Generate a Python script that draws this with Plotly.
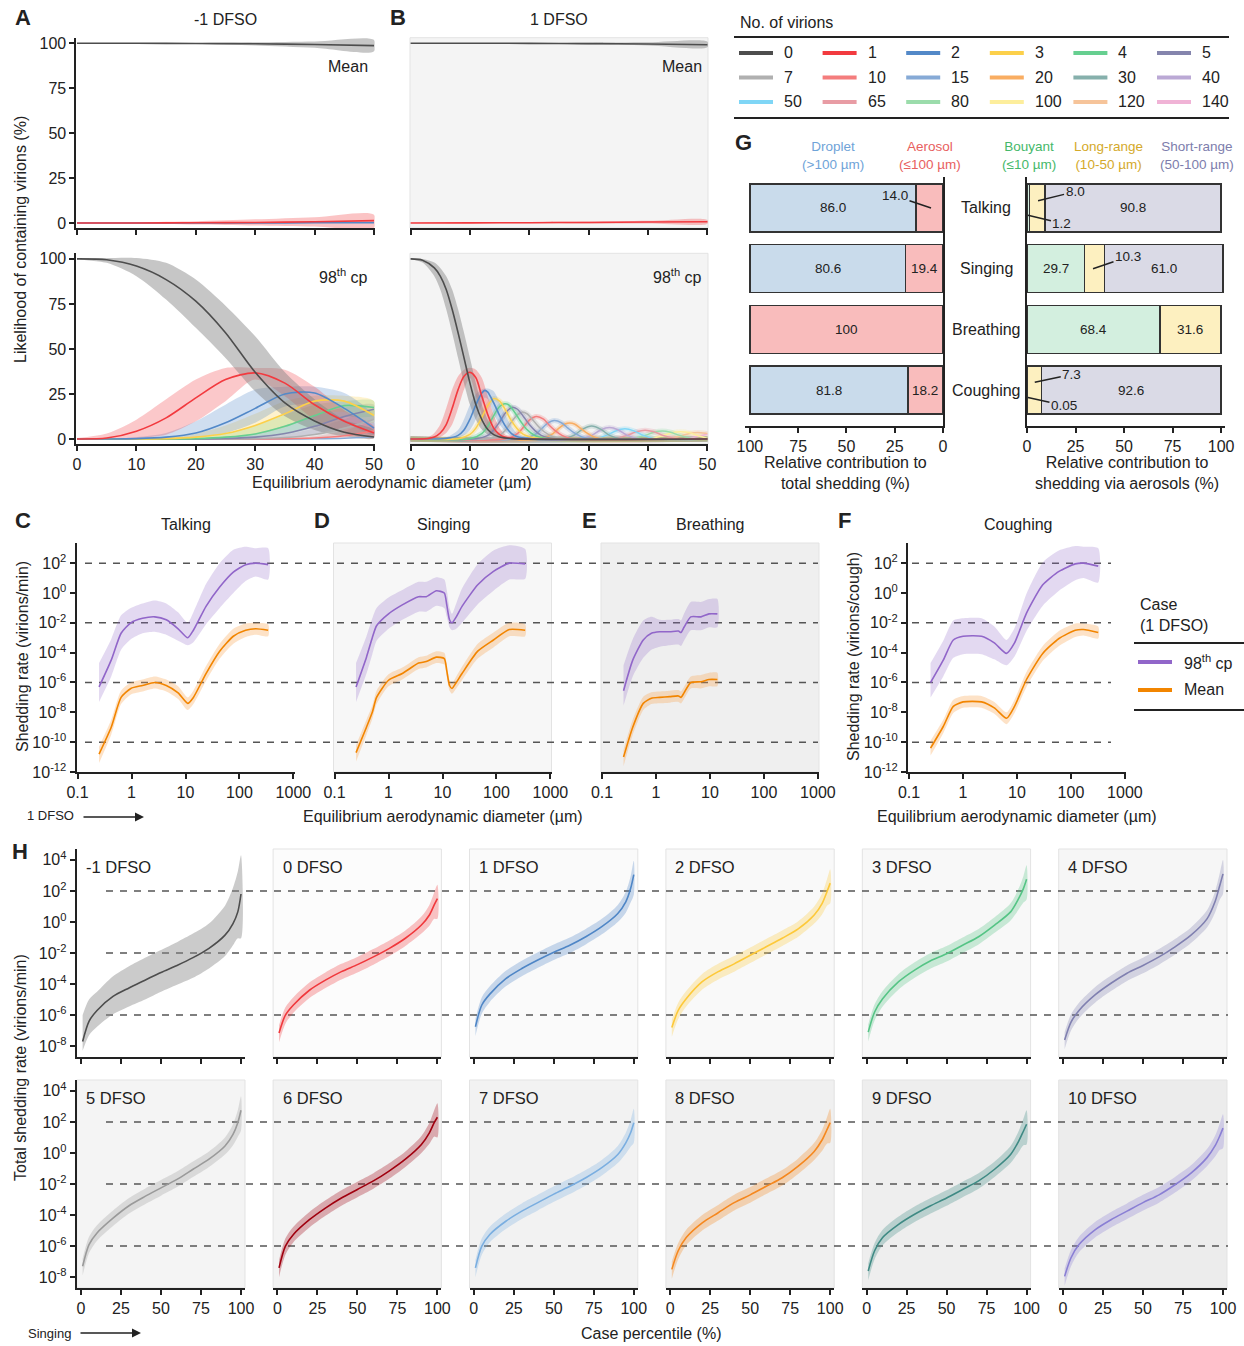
import plotly.graph_objects as go

W, H = 1244, 1346
FONT = "Liberation Sans, Arial, Helvetica, sans-serif"
INK = "#222222"
FS = 16  # base text size

# ---------------- palette / legend (No. of virions)
VIRION_COUNTS = [0, 1, 2, 3, 4, 5, 7, 10, 15, 20, 30, 40, 50, 65, 80, 100, 120, 140]
VIRION_COLORS = ["#4d4d4d", "#f23a3f", "#5389c8", "#fcd04a", "#66cf90", "#8585ad",
                 "#b0b0b0", "#f47d7d", "#86aad6", "#f9ad62", "#86b0ac", "#bba9d5",
                 "#7fd6f6", "#e89ca4", "#9bdcab", "#fdee9c", "#f6c49a", "#f0b3d6"]

# ---------------- Panel A (-1 DFSO)  mean (top)
AT_X = [0, 10, 20, 30, 40, 50]
AT0 = [100, 100, 99.9, 99.7, 99.3, 98.7]
AT0_HI = [100, 100, 100.1, 100.5, 101.0, 101.8]
AT0_LO = [100, 99.9, 99.6, 98.8, 97.5, 95.5]
AT1 = [0, 0.02, 0.1, 0.3, 0.7, 1.3]
AT1_HI = [0, 0.4, 1.0, 2.0, 3.2, 4.6]
AT1_LO = [0, -0.4, -0.8, -1.4, -2.0, -2.6]
AT2 = [0, 0, 0, 0.02, 0.08, 0.2]

# ---------------- Panel A (-1 DFSO) 98th cp (bottom)
AB_X = [0, 5, 10, 15, 20, 25, 30, 35, 40, 45, 50]
AB0 = [100, 99.5, 96, 88.5, 76.5, 59, 37, 20, 10, 3.7, 1.1]
AB0_HI = [100, 100.5, 100.5, 97.8, 88.5, 74, 57, 37, 22, 10.7, 5]
AB0_LO = [100, 97.8, 90.4, 77.4, 61.7, 45, 26.5, 12.6, 5, 1.5, 0.4]
AB1 = [0, 0.5, 4.3, 11.7, 22.8, 33, 36.7, 31, 19, 9.8, 3.3]
AB1_HI = [0.5, 3, 10.7, 22, 33, 39.4, 39.4, 38.5, 29, 16, 7]
AB1_LO = [0, 0, 0.5, 2.4, 9.8, 21, 33, 23.7, 10.7, 3.3, 0.6]
AB2 = [0, 0, 0.2, 1, 3.3, 9, 17, 25, 25.5, 17, 6]
AB2_HI = [0, 0.2, 1, 3.3, 9.8, 19, 27.4, 29, 29, 25.5, 12.6]
AB2_LO = [0, 0, 0, 0.2, 1, 3.3, 9, 18, 19, 9.8, 2.4]
AB3 = [0, 0, 0, 0.2, 1, 3, 7.5, 14, 21, 21, 13]
AB3_HI = [0, 0, 0.1, 0.8, 3, 7.5, 14, 21, 24, 24, 21]
AB3_LO = [0, 0, 0, 0, 0.2, 0.8, 2.5, 6.5, 13, 15, 9]
AB4 = [0, 0, 0, 0, 0.2, 1, 2.8, 7, 13, 18.5, 17.5]
AB4_HI = [0, 0, 0, 0.1, 0.8, 3, 7.5, 13.5, 19, 21, 21]
AB4_LO = [0, 0, 0, 0, 0, 0.2, 0.8, 2.5, 6.5, 12, 13]
AB5 = [0, 0, 0, 0, 0, 0.3, 1, 3, 7, 12.5, 16.5]
AB5_HI = [0, 0, 0, 0, 0.2, 1, 3, 7.5, 13, 17.5, 19]
AB5_LO = [0, 0, 0, 0, 0, 0, 0.2, 0.8, 2.5, 6.5, 11]
AB7 = [0, 0, 0, 0, 0, 0, 0.2, 0.8, 2.5, 6, 11]
AB7_HI = [0, 0, 0, 0, 0, 0.2, 0.8, 2.5, 6, 11, 16]
AB7_LO = [0, 0, 0, 0, 0, 0, 0, 0.2, 0.6, 2, 5]
AB10 = [0, 0, 0, 0, 0, 0, 0, 0.1, 0.5, 1.8, 4.5]
AB10_HI = [0, 0, 0, 0, 0, 0, 0.1, 0.5, 1.5, 4.5, 9]
AB10_LO = [0, 0, 0, 0, 0, 0, 0, 0, 0.1, 0.6, 1.8]
AB15 = [0, 0, 0, 0, 0, 0, 0, 0, 0.1, 0.4, 1.2]

# ---------------- Panel B (1 DFSO) mean (top)
BT0 = [100, 100, 99.95, 99.8, 99.6, 99.2]
BT0_HI = [100, 100, 100.1, 100.3, 100.5, 100.8]
BT0_LO = [100, 99.9, 99.7, 99.3, 98.8, 97.8]
BT1 = [0, 0.05, 0.15, 0.3, 0.5, 0.7]
BT1_HI = [0, 0.2, 0.5, 0.8, 1.2, 1.7]
BT1_LO = [0, -0.1, -0.2, -0.3, -0.3, -0.4]

# ---------------- Panel B (1 DFSO) 98th cp (bottom)
B0_X = [0, 2, 4, 5, 6, 7, 8, 9, 10, 11, 12, 13, 14, 15, 17, 50]
B0_Y = [100, 99.3, 95, 90.4, 83, 72, 59, 45, 31, 19, 10.7, 5.2, 2.4, 1.1, 0.2, 0]
B0_HI = [100, 100, 98, 95, 90.4, 83, 72, 59, 45, 31, 19, 10.7, 5.2, 2.4, 0.5, 0]
B0_LO = [100, 98, 90.4, 83, 72, 59, 45, 31, 19, 10.7, 5.2, 2.4, 1.1, 0.5, 0.05, 0]
B1_X = [0, 3, 4, 5, 6, 7, 8, 9, 10, 11, 12, 13, 14, 15, 16, 18, 50]
B1_Y = [0, 0.3, 1.1, 3.3, 8, 17, 27.4, 34.8, 37, 34, 23.7, 13.5, 6, 2.4, 0.9, 0.1, 0]
B1_HI = [0, 1, 3.3, 8, 17, 27.4, 34.8, 38.5, 39.5, 38.5, 34, 23.7, 13.5, 6, 2.4, 0.5, 0]
B1_LO = [0, 0, 0.2, 1.1, 3.3, 8, 17, 27.4, 34, 23.7, 13.5, 6, 2.4, 0.9, 0.3, 0, 0]
B2_X = [0, 6, 8, 9, 10, 11, 12, 12.5, 13, 14, 15, 16, 17, 18, 20, 50]
B2_Y = [0, 0.3, 2, 5, 11, 19, 25.5, 27, 26, 20, 13, 7, 3, 1.2, 0.2, 0]
B2_HI = [0, 1, 5, 11, 19, 25, 27.5, 28, 28, 26.5, 20, 13, 7, 3, 0.8, 0]
B2_LO = [0, 0, 0.5, 2, 5, 11, 19, 23, 22, 14, 8, 4, 1.5, 0.5, 0, 0]
B3_X = [0, 8, 10, 11, 12, 13, 14, 15, 16, 17, 18, 19, 21, 50]
B3_Y = [0, 0.1, 2.5, 6, 12, 18.5, 22.4, 21, 16, 10, 5.5, 2.5, 0.5, 0]
B4_X = [0, 10, 12, 13, 14, 15, 15.8, 16.5, 17.5, 18.5, 19.5, 21, 23, 50]
B4_Y = [0, 0.1, 3, 7, 13, 18, 19.5, 19, 15, 10, 5.5, 1.8, 0.3, 0]
B5_X = [0, 11, 13, 14, 15, 16, 17, 18, 19, 20, 21, 22, 24, 50]
B5_Y = [0, 0.1, 2, 5, 9.5, 14.5, 17.5, 16.5, 12.5, 8, 4.5, 2, 0.3, 0]
B7_X = [0, 13, 15, 16, 17, 18, 18.8, 19.6, 20.5, 21.5, 22.5, 24, 26, 50]
B7_Y = [0, 0.1, 2, 5, 9.5, 13.5, 14.9, 14, 11, 7, 4, 1.2, 0.2, 0]
B10_X = [0, 16, 18, 19, 20, 21.2, 22.4, 23.4, 24.4, 25.5, 27, 50]
B10_Y = [0, 0.1, 3, 6.5, 10.5, 12.5, 11, 7.5, 4.5, 2, 0.3, 0]
B15_X = [0, 19, 21, 22, 23, 24.2, 25.4, 26.5, 27.5, 29, 31, 50]
B15_Y = [0, 0.1, 2.5, 5.5, 8.5, 10.2, 9, 6, 3.5, 1, 0.1, 0]
B20_X = [0, 22, 24, 25, 26, 26.8, 27.6, 28.6, 29.6, 31, 33, 50]
B20_Y = [0, 0.1, 3, 6, 8.3, 8.8, 8.3, 6, 3.5, 1, 0.1, 0]
B30_X = [0, 25.5, 27.5, 29, 30.5, 32, 33.5, 35.5, 50]
B30_Y = [0, 0.1, 2, 5.5, 7.2, 5.5, 2, 0.1, 0]
B40_X = [0, 28.5, 30.5, 32, 33.5, 35, 36.5, 38.5, 50]
B40_Y = [0, 0.1, 2, 5, 6.3, 5, 2, 0.1, 0]
B50_X = [0, 31, 33, 34.6, 36.1, 37.6, 39.2, 41.2, 50]
B50_Y = [0, 0.1, 2, 4.5, 5.6, 4.5, 2, 0.1, 0]
B65_X = [0, 34, 36.5, 38, 39.5, 41, 42.5, 45, 50]
B65_Y = [0, 0.1, 2, 4, 4.9, 4, 2, 0.1, 0]
B80_X = [0, 37, 39.5, 41, 42.4, 43.8, 45.3, 47.8, 50]
B80_Y = [0, 0.1, 2, 3.7, 4.4, 3.7, 2, 0.1, 0]
B100_X = [0, 40, 42.5, 44, 45.5, 47, 48.5, 50]
B100_Y = [0, 0.1, 1.8, 3.4, 4, 3.4, 1.8, 0.3]
B120_X = [0, 43, 45.5, 47, 48.4, 49.8, 50]
B120_Y = [0, 0.1, 1.7, 3, 3.6, 3.1, 3.0]
B140_X = [0, 46, 48.5, 50]
B140_Y = [0, 0.1, 1.5, 2.8]

# ---------------- Panel G
ACTIVITIES = ["Talking", "Singing", "Breathing", "Coughing"]
DROPLET = [86.0, 80.6, 0, 81.8]
AEROSOL = [14.0, 19.4, 100, 18.2]
BUOYANT = [1.2, 29.7, 68.4, 0.05]
LONG_RANGE = [8.0, 10.3, 31.6, 7.3]
SHORT_RANGE = [90.8, 61.0, 0, 92.6]

# ---------------- Panels C-F (diameter in um, log10 shedding rate)
C_X = [0.25, 0.42, 0.64, 0.97, 1.6, 2.7, 4.4, 7.3, 11, 14, 24, 43, 77, 130, 200, 340]
C_P98 = [-6.3, -4.5, -2.7, -2.0, -1.7, -1.6, -1.8, -2.4, -3.0, -2.5, -0.9, 0.4, 1.4, 1.9, 2.0, 1.9]
C_P98_UP = [1.6, 1.4, 1.2, 1.0, 1.0, 1.1, 1.1, 1.1, 1.0, 1.2, 1.5, 1.6, 1.5, 1.2, 1.0, 1.1]
C_P98_DN = [1.0, 1.1, 1.1, 1.1, 1.0, 1.0, 1.0, 0.8, 0.5, 0.8, 1.2, 1.4, 1.4, 1.1, 0.9, 1.0]
C_MEAN = [-10.8, -9.0, -7.0, -6.4, -6.2, -6.0, -6.2, -6.7, -7.4, -7.0, -5.4, -3.9, -2.9, -2.5, -2.4, -2.5]
C_MEAN_UP = [0.5, 0.5, 0.45, 0.4, 0.4, 0.4, 0.4, 0.45, 0.4, 0.45, 0.5, 0.5, 0.5, 0.45, 0.4, 0.4]
C_MEAN_DN = [0.6, 0.5, 0.45, 0.4, 0.4, 0.4, 0.4, 0.4, 0.45, 0.45, 0.5, 0.5, 0.5, 0.45, 0.4, 0.4]

D_X = [0.25, 0.39, 0.5, 0.6, 1.0, 1.8, 3.6, 5.0, 7.7, 10.8, 12, 13.5, 15, 18, 23, 45, 88, 173, 340]
D_P98 = [-6.3, -4.3, -3.0, -2.2, -1.4, -0.8, -0.25, -0.25, 0.15, 0.0, -0.8, -1.8, -2.0, -1.6, -0.9, 0.55, 1.45, 2.0, 1.95]
D_P98_UP = [1.6, 1.4, 1.3, 1.2, 1.1, 1.0, 1.0, 1.0, 0.9, 0.9, 1.0, 0.8, 0.6, 0.9, 1.2, 1.4, 1.4, 1.2, 1.0]
D_P98_DN = [1.0, 1.1, 1.1, 1.0, 1.0, 1.0, 1.0, 1.0, 1.0, 1.0, 0.8, 0.5, 0.5, 0.8, 1.1, 1.3, 1.3, 1.1, 1.0]
D_MEAN = [-10.7, -9.0, -8.0, -7.0, -5.85, -5.4, -4.7, -4.6, -4.3, -4.4, -5.2, -6.2, -6.4, -6.0, -5.4, -3.9, -3.15, -2.45, -2.5]
D_MEAN_UP = [0.5, 0.5, 0.45, 0.45, 0.4, 0.4, 0.4, 0.4, 0.4, 0.4, 0.4, 0.35, 0.35, 0.4, 0.45, 0.5, 0.5, 0.45, 0.4]
D_MEAN_DN = [0.6, 0.5, 0.45, 0.45, 0.4, 0.4, 0.4, 0.4, 0.4, 0.4, 0.4, 0.35, 0.35, 0.4, 0.45, 0.5, 0.5, 0.45, 0.4]

E_X = [0.25, 0.37, 0.58, 0.82, 1.17, 1.8, 2.6, 2.9, 3.3, 4.4, 6.8, 9.6, 13.7]
E_P98 = [-6.55, -4.5, -3.15, -2.7, -2.6, -2.6, -2.55, -2.65, -2.3, -1.6, -1.6, -1.4, -1.4]
E_P98_UP = [1.7, 1.4, 1.3, 1.1, 0.8, 0.8, 0.8, 0.8, 0.9, 1.0, 1.0, 1.0, 1.0]
E_P98_DN = [1.0, 1.1, 1.2, 1.1, 1.0, 0.9, 0.9, 0.9, 0.9, 0.9, 0.9, 0.9, 0.9]
E_MEAN = [-11.0, -9.0, -7.4, -7.05, -7.0, -6.95, -6.9, -7.0, -6.7, -6.0, -5.95, -5.8, -5.8]
E_MEAN_UP = [0.5, 0.5, 0.45, 0.4, 0.4, 0.4, 0.4, 0.4, 0.4, 0.4, 0.45, 0.45, 0.45]
E_MEAN_DN = [0.6, 0.5, 0.45, 0.4, 0.4, 0.4, 0.4, 0.4, 0.4, 0.4, 0.45, 0.45, 0.45]

F_X = [0.25, 0.43, 0.66, 1.0, 2.2, 3.8, 6.4, 9.0, 15, 30, 60, 120, 170, 320]
F_P98 = [-6.0, -4.5, -3.15, -2.9, -2.9, -3.35, -4.05, -3.35, -1.35, 0.55, 1.45, 1.95, 2.0, 1.8]
F_P98_UP = [1.3, 1.3, 1.3, 1.2, 1.2, 1.1, 0.9, 1.0, 1.3, 1.5, 1.4, 1.2, 1.1, 1.2]
F_P98_DN = [1.0, 1.1, 1.2, 1.2, 1.2, 1.1, 0.8, 0.9, 1.2, 1.4, 1.3, 1.1, 1.0, 1.1]
F_MEAN = [-10.4, -8.95, -7.6, -7.3, -7.3, -7.7, -8.4, -7.6, -5.8, -4.05, -3.05, -2.5, -2.45, -2.65]
F_MEAN_UP = [0.5, 0.45, 0.45, 0.4, 0.4, 0.4, 0.4, 0.45, 0.5, 0.5, 0.5, 0.45, 0.4, 0.4]
F_MEAN_DN = [0.5, 0.45, 0.45, 0.4, 0.4, 0.4, 0.4, 0.45, 0.5, 0.5, 0.5, 0.45, 0.4, 0.4]

ACT_TITLES = ["Talking", "Singing", "Breathing", "Coughing"]

# ---------------- Panel H (case percentile, log10 total shedding rate)
H_X = [1, 5, 10, 20, 30, 40, 50, 60, 70, 80, 90, 95, 98, 100]
H_DFSO = [-1, 0, 1, 2, 3, 4, 5, 6, 7, 8, 9, 10]
H_M1 = [-7.7, -6.4, -5.7, -4.8, -4.25, -3.75, -3.25, -2.8, -2.3, -1.7, -0.85, -0.1, 0.65, 1.8]
H_0 = [-7.15, -6.0, -5.35, -4.4, -3.75, -3.2, -2.75, -2.25, -1.7, -1.05, -0.2, 0.45, 1.1, 1.5]
H_1 = [-6.75, -5.35, -4.65, -3.65, -3.0, -2.45, -1.95, -1.5, -0.95, -0.3, 0.55, 1.3, 2.15, 3.05]
H_2 = [-6.8, -5.7, -4.95, -3.85, -3.2, -2.7, -2.15, -1.6, -1.05, -0.45, 0.45, 1.2, 1.95, 2.5]
H_3 = [-7.1, -5.8, -4.95, -3.85, -3.1, -2.5, -2.05, -1.5, -0.95, -0.2, 0.65, 1.5, 2.15, 2.75]
H_4 = [-7.6, -6.45, -5.7, -4.7, -3.95, -3.3, -2.8, -2.25, -1.6, -0.85, 0.2, 1.3, 2.35, 3.1]
H_5 = [-7.3, -5.9, -5.15, -4.2, -3.4, -2.8, -2.25, -1.7, -1.05, -0.4, 0.45, 1.2, 1.95, 2.75]
H_6 = [-7.4, -6.0, -5.25, -4.3, -3.55, -2.9, -2.35, -1.8, -1.15, -0.4, 0.55, 1.3, 1.95, 2.3]
H_7 = [-7.4, -6.0, -5.25, -4.4, -3.75, -3.2, -2.65, -2.15, -1.6, -0.95, -0.1, 0.65, 1.3, 1.95]
H_8 = [-7.5, -6.3, -5.45, -4.5, -3.85, -3.2, -2.7, -2.15, -1.6, -0.85, 0.1, 0.85, 1.5, 1.95]
H_9 = [-7.6, -6.3, -5.45, -4.6, -3.95, -3.4, -2.9, -2.35, -1.8, -1.05, -0.1, 0.75, 1.4, 1.85]
H_10 = [-7.95, -6.75, -5.9, -4.95, -4.3, -3.75, -3.2, -2.7, -2.05, -1.3, -0.3, 0.45, 1.1, 1.6]
H_UP = [0.5, 0.5, 0.5, 0.5, 0.5, 0.5, 0.5, 0.5, 0.5, 0.5, 0.55, 0.65, 0.8, 0.9]
H_DN = [0.6, 0.55, 0.5, 0.5, 0.5, 0.5, 0.5, 0.5, 0.5, 0.5, 0.55, 0.7, 0.9, 1.3]
H_UP_M1 = [1.7, 1.4, 1.2, 1.3, 1.4, 1.45, 1.45, 1.5, 1.55, 1.6, 1.9, 2.3, 2.6, 2.5]
H_DN_M1 = [0.6, 0.9, 1.05, 1.15, 1.2, 1.25, 1.25, 1.25, 1.3, 1.3, 1.35, 1.4, 1.7, 2.85]
H_LINE = ["#4d4d4d", "#f0383c", "#4f86c6", "#fdc93a", "#55c485", "#8080b0",
          "#9a9a9a", "#a0000f", "#7aaee0", "#f5881f", "#3f8a84", "#8a7fd4"]
H_BG = ["#ffffff", "#fcfcfc", "#fafafa", "#f9f9f9", "#f8f8f8", "#f6f6f6",
        "#f4f4f4", "#f3f3f3", "#f2f2f2", "#f0f0f0", "#eeeeee", "#ececec"]

P98_COLOR = "#9166c9"
MEAN_COLOR = "#f28500"


# ======================================================================
def fx(p):
    return p / W


def fy(p):
    return 1 - p / H


def rgba(h, a):
    h = h.lstrip("#")
    return "rgba(%d,%d,%d,%s)" % (int(h[0:2], 16), int(h[2:4], 16), int(h[4:6], 16), a)


COLOR_OF = dict(zip(VIRION_COUNTS, VIRION_COLORS))

fig = go.Figure()
AXES = {}
ANN = []
SHP = []
_n = [0]

BASE_AX = dict(showgrid=False, zeroline=False, showline=True, linecolor=INK, linewidth=2,
               ticks="outside", ticklen=5, tickwidth=1.5, tickcolor=INK,
               tickfont=dict(size=FS, color=INK, family=FONT))


def new_axes(xpx, ypx, xa, ya):
    _n[0] += 1
    s = "" if _n[0] == 1 else str(_n[0])
    xd = dict(BASE_AX)
    xd.update(domain=[fx(xpx[0]), fx(xpx[1])], anchor="y" + s)
    xd.update(xa)
    yd = dict(BASE_AX)
    yd.update(domain=[fy(ypx[1]), fy(ypx[0])], anchor="x" + s)
    yd.update(ya)
    AXES["xaxis" + s] = xd
    AXES["yaxis" + s] = yd
    return "x" + s, "y" + s


def txt(x, y, s, size=FS, xanchor="center", angle=0, color=INK, xref="paper", yref="paper",
        yanchor="middle", align="center"):
    ANN.append(dict(x=x, y=y, xref=xref, yref=yref, text=s, showarrow=False, xanchor=xanchor,
                    yanchor=yanchor, textangle=angle, align=align,
                    font=dict(size=size, color=color, family=FONT)))


def ptxt(xp, yp, s, **k):
    txt(fx(xp), fy(yp), s, **k)


def line(xs, ys, color, xr, yr, width=1.6, shape="spline", dash=None, smoothing=0.8):
    ld = dict(color=color, width=width, shape=shape)
    if shape == "spline":
        ld["smoothing"] = smoothing
    if dash:
        ld["dash"] = dash
    fig.add_trace(go.Scatter(x=list(xs), y=list(ys), mode="lines", line=ld, xaxis=xr, yaxis=yr,
                             hoverinfo="skip", showlegend=False))


def band(xs, lo, hi, fill, xr, yr, smoothing=0.8):
    fig.add_trace(go.Scatter(x=list(xs) + list(xs)[::-1], y=list(hi) + list(lo)[::-1],
                             mode="lines", fill="toself", fillcolor=fill,
                             line=dict(width=0, shape="spline", smoothing=smoothing),
                             xaxis=xr, yaxis=yr, hoverinfo="skip", showlegend=False))


def bg_rect(xr, yr, color, border="#e3e3e3"):
    SHP.append(dict(type="rect", xref=xr + " domain", yref=yr + " domain", x0=0, x1=1, y0=0, y1=1,
                    fillcolor=color, line=dict(color=border, width=1), layer="below"))


def letter(xp, yp, s):
    ptxt(xp, yp, "<b>%s</b>" % s, size=22, xanchor="left")


def pow_text(e):
    return "10<sup>%d</sup>" % e


# ====================== Panels A / B ===================================
XT50 = [0, 10, 20, 30, 40, 50]
YT100 = [0, 25, 50, 75, 100]
ARANGE = [-2.8, 103.1]

# A top
xr, yr = new_axes((76.4, 374.6), (37.7, 228),
                  dict(range=[-0.1, 50.1], tickvals=XT50, showticklabels=False),
                  dict(range=ARANGE, tickvals=YT100))
band(AT_X, AT0_LO, AT0_HI, rgba("#808080", 0.45), xr, yr)
band(AT_X, AT1_LO, AT1_HI, rgba(COLOR_OF[1], 0.3), xr, yr)
line(AT_X, AT2, COLOR_OF[2], xr, yr)
line(AT_X, AT1, COLOR_OF[1], xr, yr)
line(AT_X, AT0, COLOR_OF[0], xr, yr)
txt(0.985, 0.851, "Mean", xref=xr + " domain", yref=yr + " domain", xanchor="right")

# A bottom
xr, yr = new_axes((76.4, 374.6), (253.3, 444),
                  dict(range=[-0.1, 50.1], tickvals=XT50),
                  dict(range=ARANGE, tickvals=YT100))
AB_SETS = [(10, AB10, AB10_LO, AB10_HI), (7, AB7, AB7_LO, AB7_HI), (5, AB5, AB5_LO, AB5_HI),
           (4, AB4, AB4_LO, AB4_HI), (3, AB3, AB3_LO, AB3_HI), (2, AB2, AB2_LO, AB2_HI),
           (1, AB1, AB1_LO, AB1_HI), (0, AB0, AB0_LO, AB0_HI)]
for k, m, lo, hi in AB_SETS:
    alpha = 0.45 if k == 0 else 0.28
    band(AB_X, lo, hi, rgba("#808080" if k == 0 else COLOR_OF[k], alpha), xr, yr)
line(AB_X, AB15, COLOR_OF[15], xr, yr)
for k, m, lo, hi in AB_SETS:
    line(AB_X, m, COLOR_OF[k], xr, yr)
txt(0.985, 0.88, "98<sup>th</sup> cp", xref=xr + " domain", yref=yr + " domain", xanchor="right")

# B top
xr, yr = new_axes((410, 708), (37.7, 228),
                  dict(range=[-0.1, 50.1], tickvals=XT50, showticklabels=False),
                  dict(range=ARANGE, visible=False))
bg_rect(xr, yr, "#f4f4f4")
band(AT_X, BT0_LO, BT0_HI, rgba("#808080", 0.45), xr, yr)
band(AT_X, BT1_LO, BT1_HI, rgba(COLOR_OF[1], 0.3), xr, yr)
line(AT_X, BT1, COLOR_OF[1], xr, yr)
line(AT_X, BT0, COLOR_OF[0], xr, yr)
txt(0.985, 0.851, "Mean", xref=xr + " domain", yref=yr + " domain", xanchor="right")

# B bottom
xr, yr = new_axes((410, 708), (253.3, 444),
                  dict(range=[-0.1, 50.1], tickvals=XT50),
                  dict(range=ARANGE, visible=False))
bg_rect(xr, yr, "#f4f4f4")
B_SMALL = [(140, B140_X, B140_Y), (120, B120_X, B120_Y), (100, B100_X, B100_Y),
           (80, B80_X, B80_Y), (65, B65_X, B65_Y), (50, B50_X, B50_Y), (40, B40_X, B40_Y),
           (30, B30_X, B30_Y), (20, B20_X, B20_Y), (15, B15_X, B15_Y), (10, B10_X, B10_Y),
           (7, B7_X, B7_Y), (5, B5_X, B5_Y), (4, B4_X, B4_Y), (3, B3_X, B3_Y)]
for k, xs, ys in B_SMALL:
    line(xs, ys, rgba(COLOR_OF[k], 0.28), xr, yr, width=5)
band(B2_X, B2_LO, B2_HI, rgba(COLOR_OF[2], 0.28), xr, yr)
band(B1_X, B1_LO, B1_HI, rgba(COLOR_OF[1], 0.3), xr, yr)
band(B0_X, B0_LO, B0_HI, rgba("#808080", 0.45), xr, yr)
for k, xs, ys in B_SMALL:
    line(xs, ys, COLOR_OF[k], xr, yr, width=1.5)
line(B2_X, B2_Y, COLOR_OF[2], xr, yr)
line(B1_X, B1_Y, COLOR_OF[1], xr, yr)
line(B0_X, B0_Y, COLOR_OF[0], xr, yr)
txt(0.985, 0.88, "98<sup>th</sup> cp", xref=xr + " domain", yref=yr + " domain", xanchor="right")

letter(13, 18, "A")
letter(388, 18, "B")
ptxt(225, 20, "-1 DFSO")
ptxt(559, 20, "1 DFSO")
ptxt(20, 240, "Likelihood of containing virions (%)", angle=-90)
ptxt(392, 482, "Equilibrium aerodynamic diameter (µm)")

# ---- legend: No. of virions
ptxt(738, 22, "No. of virions", xanchor="left")
SHP.append(dict(type="line", xref="paper", yref="paper", x0=fx(734), x1=fx(1229), y0=fy(37), y1=fy(37),
                line=dict(color=INK, width=2)))
SHP.append(dict(type="line", xref="paper", yref="paper", x0=fx(734), x1=fx(1229), y0=fy(118), y1=fy(118),
                line=dict(color=INK, width=2)))
for i, (cnt, col) in enumerate(zip(VIRION_COUNTS, VIRION_COLORS)):
    r, c = divmod(i, 6)
    x0 = 739 + 83.6 * c
    yy = 53 + 24.5 * r
    SHP.append(dict(type="line", xref="paper", yref="paper", x0=fx(x0), x1=fx(x0 + 34),
                    y0=fy(yy), y1=fy(yy), line=dict(color=col, width=4)))
    ptxt(x0 + 43, yy, str(cnt), xanchor="left")

# ====================== Panel G ========================================
G_ROWS = list(range(len(ACTIVITIES)))
GY_RANGE = [3.59, -0.51]


def fmt(v):
    if v >= 100:
        return "%d" % v
    if v < 0.1:
        return "%.2f" % v
    return "%.1f" % v


BAR_LINE = dict(color="#333333", width=1.5)


def stacked(series, xr, yr):
    # bars stacked through plotly; labels at segment centres (data coords)
    base = [0.0] * len(G_ROWS)
    for vals, col in series:
        fig.add_trace(go.Bar(y=G_ROWS, x=vals, orientation="h", width=0.79, xaxis=xr, yaxis=yr,
                             marker=dict(color=col, line=BAR_LINE), hoverinfo="skip",
                             showlegend=False))
        for i, v in enumerate(vals):
            if v >= 15:
                ANN.append(dict(x=base[i] + v / 2.0, y=G_ROWS[i], xref=xr, yref=yr, text=fmt(v),
                                showarrow=False, font=dict(size=13.5, color=INK, family=FONT)))
            base[i] += v


xl, yl = new_axes((745, 943), (177, 426),
                  dict(range=[102.5, 0], tickvals=[0, 25, 50, 75, 100]),
                  dict(range=GY_RANGE, side="right", ticks="", showticklabels=False))
stacked([(AEROSOL, "#f9bcbc"), (DROPLET, "#c9dbeb")], xl, yl)

xg, yg = new_axes((1027, 1225), (177, 426),
                  dict(range=[0, 102], tickvals=[0, 25, 50, 75, 100]),
                  dict(range=GY_RANGE, ticks="", showticklabels=False))
stacked([(BUOYANT, "#d3efdf"), (LONG_RANGE, "#fdf0c0"), (SHORT_RANGE, "#dadae6")], xg, yg)

# leader-line labels for narrow segments: (axes, value, x in segment, y, ax, ay)
LEADERS = [((xl, yl), AEROSOL[0], 6.2, 0.0, -36, -12),
           ((xg, yg), LONG_RANGE[0], 5.7, -0.12, 37, -9),
           ((xg, yg), BUOYANT[0], 0.5, 0.12, 34, 8),
           ((xg, yg), LONG_RANGE[1], 34, 1.0, 35, -12),
           ((xg, yg), LONG_RANGE[3], 4.0, 2.87, 37, -8),
           ((xg, yg), BUOYANT[3], 0.5, 3.12, 36, 8)]
for (ax_x, ax_y), v, px, py, dx, dy in LEADERS:
    ANN.append(dict(x=px, y=py, xref=ax_x, yref=ax_y, text=fmt(v), showarrow=True, arrowhead=0,
                    arrowwidth=1.5, arrowcolor=INK, ax=dx, ay=dy, standoff=0,
                    font=dict(size=13.5, color=INK, family=FONT)))

for i, name in enumerate(ACTIVITIES):
    ANN.append(dict(x=fx(986), y=G_ROWS[i], xref="paper", yref=yl, text=name, showarrow=False,
                    xanchor="center", font=dict(size=FS, color=INK, family=FONT)))

letter(733, 143, "G")
for xp, s, col in [(833, "Droplet<br>(&gt;100 µm)", "#6fa3d8"),
                   (930, "Aerosol<br>(≤100 µm)", "#e8605e"),
                   (1029, "Bouyant<br>(≤10 µm)", "#45b86a"),
                   (1108, "Long-range<br>(10-50 µm)", "#d4a92a"),
                   (1197, "Short-range<br>(50-100 µm)", "#7d7dac")]:
    ptxt(xp, 155, s, size=13.5, color=col)
ptxt(845, 473, "Relative contribution to<br>total shedding (%)")
ptxt(1127, 473, "Relative contribution to<br>shedding via aerosols (%)")

# ====================== Panels C-F =====================================
CF_XR = [-1.02, 3.02]
CF_YR = [-12, 3.35]
CF_XT = dict(type="log", range=CF_XR, tickvals=[0.1, 1, 10, 100, 1000],
             ticktext=["0.1", "1", "10", "100", "1000"])
CF_EXP = [-12, -10, -8, -6, -4, -2, 0, 2]
CF_YT = dict(type="log", range=CF_YR, tickvals=[10.0 ** e for e in CF_EXP],
             ticktext=[pow_text(e) for e in CF_EXP])

# dashed reference lines (overlay axes spanning panels)
for xpx in [(85, 818), (912, 1111)]:
    xo, yo = new_axes(xpx, (543, 772), dict(visible=False, range=[0, 1]),
                      dict(visible=False, type="log", range=CF_YR))
    for e in [2, -2, -6, -10]:
        line([0, 1], [10.0 ** e, 10.0 ** e], "#555555", xo, yo, width=1.5, shape="linear",
             dash="7px,7px")

CF_SETS = [(C_X, C_P98, C_P98_UP, C_P98_DN, C_MEAN, C_MEAN_UP, C_MEAN_DN),
           (D_X, D_P98, D_P98_UP, D_P98_DN, D_MEAN, D_MEAN_UP, D_MEAN_DN),
           (E_X, E_P98, E_P98_UP, E_P98_DN, E_MEAN, E_MEAN_UP, E_MEAN_DN),
           (F_X, F_P98, F_P98_UP, F_P98_DN, F_MEAN, F_MEAN_UP, F_MEAN_DN)]
CF_XPX = [(76.5, 294.5), (333.5, 551.5), (601, 819), (908, 1126)]
CF_BG = [None, "#f7f7f7", "#efefef", None]
for idx, (xs, p, pu, pd, m, mu, md) in enumerate(CF_SETS):
    show_y = idx in (0, 3)
    ya = dict(CF_YT) if show_y else dict(type="log", range=CF_YR, visible=False)
    xr, yr = new_axes(CF_XPX[idx], (543, 772), dict(CF_XT), ya)
    if CF_BG[idx]:
        bg_rect(xr, yr, CF_BG[idx])
    band(xs, [10 ** (a - b) for a, b in zip(p, pd)], [10 ** (a + b) for a, b in zip(p, pu)],
         rgba(P98_COLOR, 0.25), xr, yr, smoothing=0.6)
    band(xs, [10 ** (a - b) for a, b in zip(m, md)], [10 ** (a + b) for a, b in zip(m, mu)],
         rgba("#f7a046", 0.3), xr, yr, smoothing=0.6)
    line(xs, [10 ** a for a in p], P98_COLOR, xr, yr, smoothing=0.6)
    line(xs, [10 ** a for a in m], MEAN_COLOR, xr, yr, smoothing=0.6)

letter(13, 521, "C")
letter(312, 521, "D")
letter(580, 521, "E")
letter(836, 521, "F")
for xp, s in zip([186, 443, 710, 1018], ACT_TITLES):
    ptxt(xp, 525, s)
ptxt(22, 657, "Shedding rate (virions/min)", angle=-90)
ptxt(853, 657, "Shedding rate (virions/cough)", angle=-90)
ptxt(443, 817, "Equilibrium aerodynamic diameter (µm)")
ptxt(1017, 817, "Equilibrium aerodynamic diameter (µm)")
ptxt(76, 816, "1 DFSO", size=13, xanchor="right")
ANN.append(dict(x=fx(144), y=fy(817), xref="paper", yref="paper", text="", showarrow=True,
                arrowhead=2, arrowsize=1.2, arrowwidth=1.5, arrowcolor=INK, ax=-62, ay=0))

# Case legend
ptxt(1138, 615, "Case<br>(1 DFSO)", xanchor="left", align="left")
for yy in (643, 710):
    SHP.append(dict(type="line", xref="paper", yref="paper", x0=fx(1134), x1=fx(1244),
                    y0=fy(yy), y1=fy(yy), line=dict(color=INK, width=2)))
for yy, col, s in [(662, P98_COLOR, "98<sup>th</sup> cp"), (690, MEAN_COLOR, "Mean")]:
    SHP.append(dict(type="line", xref="paper", yref="paper", x0=fx(1138), x1=fx(1172),
                    y0=fy(yy), y1=fy(yy), line=dict(color=col, width=4)))
    ptxt(1182, yy, s, xanchor="left")

# ====================== Panel H ========================================
H_YR = [-8.7, 4.7]
H_EXP = [-8, -6, -4, -2, 0, 2, 4]
H_ROWS_PX = [(849, 1057), (1080, 1288)]
H_MEANS = [H_M1, H_0, H_1, H_2, H_3, H_4, H_5, H_6, H_7, H_8, H_9, H_10]

for ypx in H_ROWS_PX:
    xo, yo = new_axes((106, 1228), ypx, dict(visible=False, range=[0, 1]),
                      dict(visible=False, type="log", range=H_YR))
    for e in [2, -2, -6]:
        line([0, 1], [10.0 ** e, 10.0 ** e], "#555555", xo, yo, width=1.5, shape="linear",
             dash="7px,7px")

for idx, d in enumerate(H_DFSO):
    r, c = divmod(idx, 6)
    left = 76.7 + 196.4 * c
    xa = dict(range=[-2.7, 102.5], tickvals=[0, 25, 50, 75, 100], showticklabels=(r == 1))
    if c == 0:
        ya = dict(type="log", range=H_YR, tickvals=[10.0 ** e for e in H_EXP],
                  ticktext=[pow_text(e) for e in H_EXP])
    else:
        ya = dict(type="log", range=H_YR, visible=False)
    xr, yr = new_axes((left, left + 168.3), H_ROWS_PX[r], xa, ya)
    if H_BG[idx] != "#ffffff":
        bg_rect(xr, yr, H_BG[idx])
    m = H_MEANS[idx]
    up = H_UP_M1 if d == -1 else H_UP
    dn = H_DN_M1 if d == -1 else H_DN
    col = H_LINE[idx]
    fill = rgba("#8c8c8c", 0.45) if d == -1 else rgba(col, 0.3)
    band(H_X, [10 ** (a - b) for a, b in zip(m, dn)], [10 ** (a + b) for a, b in zip(m, up)],
         fill, xr, yr)
    line(H_X, [10 ** a for a in m], col, xr, yr)
    txt(0.045, 0.915, "%d DFSO" % d, size=16.5, xanchor="left", xref=xr + " domain",
        yref=yr + " domain")

letter(10, 851, "H")
ptxt(20, 1068, "Total shedding rate (virions/min)", angle=-90)
ptxt(651, 1333, "Case percentile (%)")
ptxt(73, 1333, "Singing", size=13, xanchor="right")
ANN.append(dict(x=fx(141), y=fy(1333), xref="paper", yref="paper", text="", showarrow=True,
                arrowhead=2, arrowsize=1.2, arrowwidth=1.5, arrowcolor=INK, ax=-62, ay=0))

fig.update_layout(width=W, height=H, margin=dict(l=0, r=0, t=0, b=0), template="none",
                  paper_bgcolor="white", plot_bgcolor="rgba(0,0,0,0)", showlegend=False,
                  barmode="stack", font=dict(family=FONT, color=INK),
                  annotations=ANN, shapes=SHP, **AXES)
fig.write_html("out.html", config={"displayModeBar": False},
               post_script="document.body.style.margin='0';")
